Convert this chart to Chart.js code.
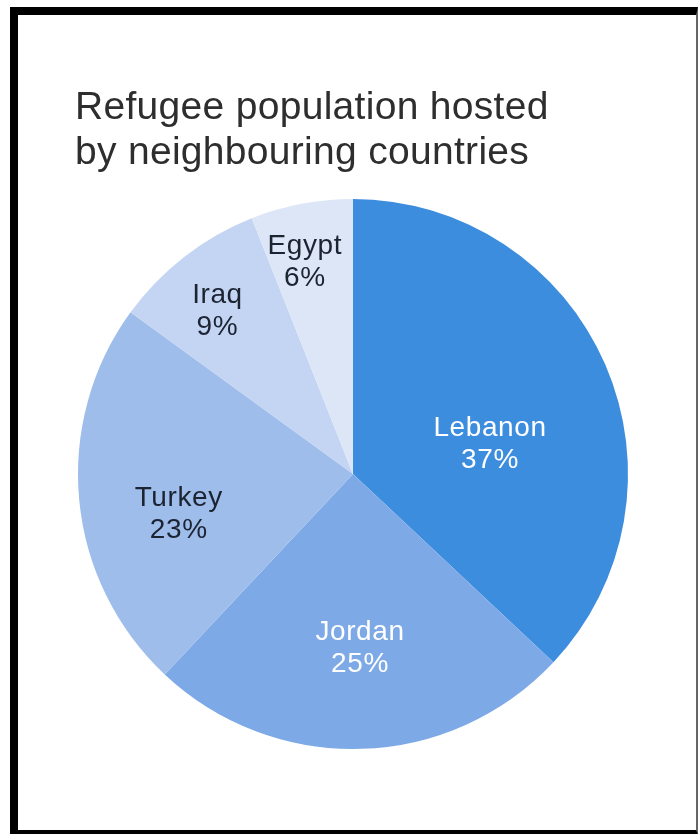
<!DOCTYPE html>
<html>
<head>
<meta charset="utf-8">
<script src="https://cdn.jsdelivr.net/npm/chart.js@4"></script>
<style>
  html, body { margin: 0; padding: 0; background: #fff; }
  #wrap { position: relative; width: 698px; height: 834px; overflow: hidden; }
  #frame {
    position: absolute; left: 10px; top: 7px; right: 0; bottom: 0;
    border-left: 8px solid #000; border-top: 8px solid #000;
    border-right: 2px solid #666; border-bottom: 4px solid #000;
    pointer-events: none;
  }
  #title {
    position: absolute; left: 75px; top: 83px;
    font-family: "Liberation Sans", Arial, sans-serif;
    font-size: 39px; line-height: 45px; color: #2e2e2e;
    letter-spacing: 0.3px;
  }
  canvas { position: absolute; left: 0; top: 0; }
</style>
</head>
<body>
<div id="wrap">
  <canvas id="pie" width="698" height="834"></canvas>
  <div id="title">Refugee population hosted<br>by neighbouring countries</div>
  <div id="frame"></div>
</div>
<script>
// chart data
const countries = ["Lebanon", "Jordan", "Turkey", "Iraq", "Egypt"];
const shares = [37, 25, 23, 9, 6];

// styling
const sliceColors = ["#3d8ddf", "#7da9e6", "#9ebdeb", "#c4d5f3", "#dde6f7"];
const labelColors = ["#ffffff", "#ffffff", "#1c2331", "#1c2331", "#1c2331"];
const labelRadius = [0.51, 0.635, 0.65, 0.77, 0.79];
const labelShift = [11, -0.5, -7.5, -2, -2]; // degrees

const pieLabels = {
  id: "pieLabels",
  afterDatasetsDraw(chart) {
    const ctx = chart.ctx;
    const meta = chart.getDatasetMeta(0);
    ctx.save();
    ctx.font = "28px 'Liberation Sans', Arial, sans-serif";
    ctx.letterSpacing = "0.6px";
    ctx.textAlign = "center";
    ctx.textBaseline = "middle";
    meta.data.forEach((arc, i) => {
      const p = arc.getProps(["x", "y", "startAngle", "endAngle", "outerRadius"], true);
      const mid = (p.startAngle + p.endAngle) / 2 + labelShift[i] * Math.PI / 180;
      const r = p.outerRadius * labelRadius[i];
      const lx = p.x + Math.cos(mid) * r;
      const ly = p.y + Math.sin(mid) * r;
      ctx.fillStyle = labelColors[i];
      ctx.fillText(countries[i], lx, ly - 16);
      ctx.fillText(shares[i] + "%", lx, ly + 16);
    });
    ctx.restore();
  }
};

const chart = new Chart(document.getElementById("pie").getContext("2d"), {
  type: "pie",
  data: {
    labels: countries,
    datasets: [{
      data: shares,
      backgroundColor: sliceColors,
      borderWidth: 0
    }]
  },
  options: {
    responsive: false,
    animation: false,
    layout: { padding: { left: 78, top: 199, right: 70, bottom: 85 } },
    plugins: {
      legend: { display: false },
      tooltip: { enabled: false }
    }
  },
  plugins: [pieLabels]
});
</script>
</body>
</html>
